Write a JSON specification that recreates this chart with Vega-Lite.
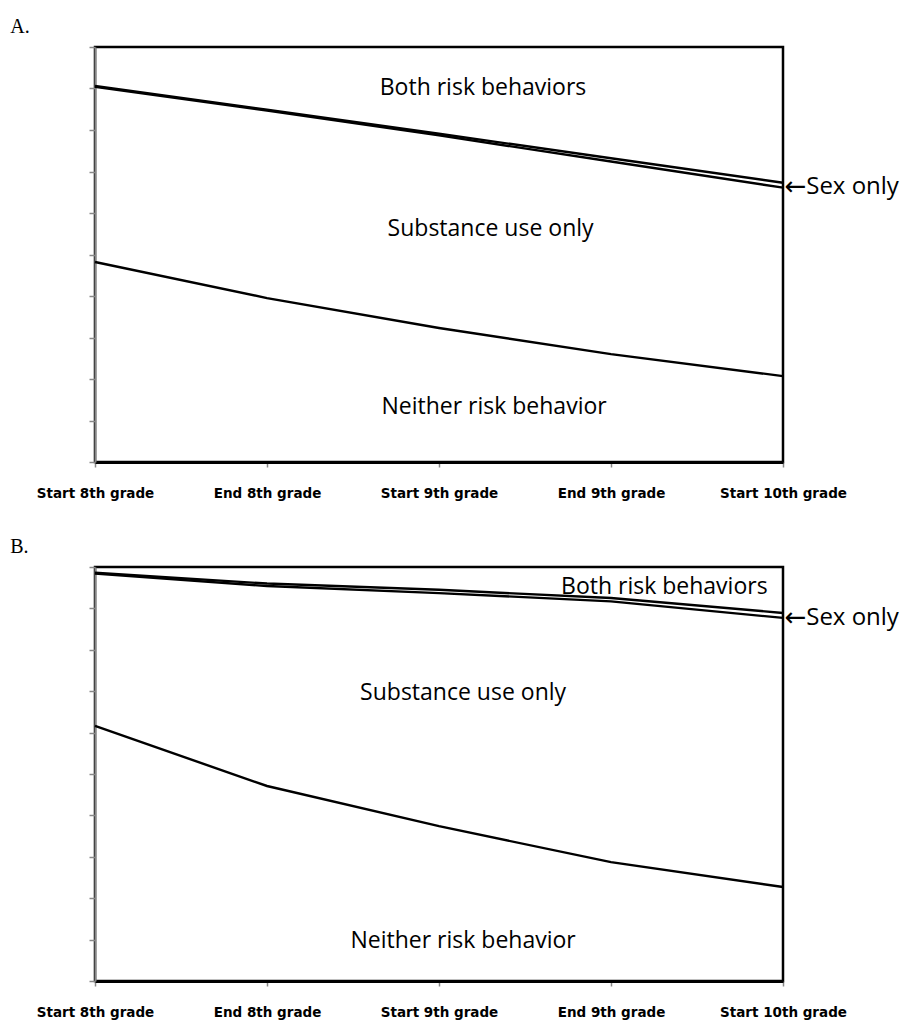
{
  "$schema": "https://vega.github.io/schema/vega-lite/v6.json",
  "background": "white",
  "padding": {"left": 8, "top": 16, "right": 0, "bottom": 0},
  "config": {
    "view": {"stroke": "black", "strokeWidth": 2.5},
    "concat": {"spacing": 35},
    "title": {"font": "Liberation Serif", "fontSize": 20, "fontWeight": "normal", "color": "black", "anchor": "start", "baseline": "bottom", "offset": 9, "dx": -26},
    "axisX": {
      "labelFont": "DejaVu Sans", "labelFontWeight": "bold", "labelFontSize": 13.5, "labelColor": "black",
      "labelPadding": 19, "labelFlush": false, "labelBaseline": "top",
      "tickSize": 5, "tickColor": "#888888", "tickWidth": 1.5,
      "domainColor": "black", "domainWidth": 3, "grid": false, "title": null, "zindex": 1
    },
    "axisY": {
      "labels": false, "tickSize": 6, "tickColor": "#888888", "tickWidth": 1.5,
      "domainColor": "#888888", "domainWidth": 2, "grid": false, "title": null, "zindex": 1
    }
  },
  "datasets": {
    "lines": [
      {"panel": "A", "series": "upper", "t": 0, "v": 0.906},
      {"panel": "A", "series": "upper", "t": 1, "v": 0.849},
      {"panel": "A", "series": "upper", "t": 2, "v": 0.791},
      {"panel": "A", "series": "upper", "t": 3, "v": 0.732},
      {"panel": "A", "series": "upper", "t": 4, "v": 0.673},
      {"panel": "A", "series": "middle", "t": 0, "v": 0.904},
      {"panel": "A", "series": "middle", "t": 1, "v": 0.847},
      {"panel": "A", "series": "middle", "t": 2, "v": 0.787},
      {"panel": "A", "series": "middle", "t": 3, "v": 0.724},
      {"panel": "A", "series": "middle", "t": 4, "v": 0.661},
      {"panel": "A", "series": "lower", "t": 0, "v": 0.482},
      {"panel": "A", "series": "lower", "t": 1, "v": 0.395},
      {"panel": "A", "series": "lower", "t": 2, "v": 0.323},
      {"panel": "A", "series": "lower", "t": 3, "v": 0.260},
      {"panel": "A", "series": "lower", "t": 4, "v": 0.207},
      {"panel": "B", "series": "upper", "t": 0, "v": 0.986},
      {"panel": "B", "series": "upper", "t": 1, "v": 0.960},
      {"panel": "B", "series": "upper", "t": 2, "v": 0.945},
      {"panel": "B", "series": "upper", "t": 3, "v": 0.925},
      {"panel": "B", "series": "upper", "t": 4, "v": 0.889},
      {"panel": "B", "series": "middle", "t": 0, "v": 0.984},
      {"panel": "B", "series": "middle", "t": 1, "v": 0.954},
      {"panel": "B", "series": "middle", "t": 2, "v": 0.937},
      {"panel": "B", "series": "middle", "t": 3, "v": 0.917},
      {"panel": "B", "series": "middle", "t": 4, "v": 0.877},
      {"panel": "B", "series": "lower", "t": 0, "v": 0.616},
      {"panel": "B", "series": "lower", "t": 1, "v": 0.471},
      {"panel": "B", "series": "lower", "t": 2, "v": 0.374},
      {"panel": "B", "series": "lower", "t": 3, "v": 0.287},
      {"panel": "B", "series": "lower", "t": 4, "v": 0.227}
    ],
    "labels": [
      {"panel": "A", "kind": "center", "label": "Both risk behaviors", "t": 2.256, "v": 0.901},
      {"panel": "A", "kind": "center", "label": "Substance use only", "t": 2.30, "v": 0.561},
      {"panel": "A", "kind": "center", "label": "Neither risk behavior", "t": 2.32, "v": 0.133},
      {"panel": "A", "kind": "arrow", "label": "←", "t": 4.01, "v": 0.663},
      {"panel": "A", "kind": "left", "label": "Sex only", "t": 4.135, "v": 0.663},
      {"panel": "B", "kind": "center", "label": "Both risk behaviors", "t": 3.31, "v": 0.951},
      {"panel": "B", "kind": "center", "label": "Substance use only", "t": 2.14, "v": 0.696},
      {"panel": "B", "kind": "center", "label": "Neither risk behavior", "t": 2.14, "v": 0.097},
      {"panel": "B", "kind": "arrow", "label": "←", "t": 4.01, "v": 0.877},
      {"panel": "B", "kind": "left", "label": "Sex only", "t": 4.135, "v": 0.877}
    ]
  },
  "vconcat": [
    {
      "title": {"text": "A."},
      "width": 688,
      "height": 415,
      "layer": [
        {
          "data": {"name": "lines"},
          "transform": [{"filter": "datum.panel === 'A'"}],
          "mark": {"type": "line", "color": "black", "strokeWidth": 2.4},
          "encoding": {
            "x": {"field": "t", "type": "quantitative", "scale": {"domain": [0, 4], "nice": false},
                  "axis": {"values": [0, 1, 2, 3, 4], "labelExpr": "['Start 8th grade','End 8th grade','Start 9th grade','End 9th grade','Start 10th grade'][datum.value]"}},
            "y": {"field": "v", "type": "quantitative", "scale": {"domain": [0, 1], "nice": false},
                  "axis": {"values": [0, 0.1, 0.2, 0.3, 0.4, 0.5, 0.6, 0.7, 0.8, 0.9, 1]}},
            "detail": {"field": "series"}
          }
        },
        {
          "data": {"name": "labels"},
          "transform": [{"filter": "datum.panel === 'A' && datum.kind === 'center'"}],
          "mark": {"type": "text", "font": "Open Sans", "fontSize": 23, "align": "center", "baseline": "middle", "color": "black"},
          "encoding": {
            "x": {"field": "t", "type": "quantitative"},
            "y": {"field": "v", "type": "quantitative"},
            "text": {"field": "label"}
          }
        },
        {
          "data": {"name": "labels"},
          "transform": [{"filter": "datum.panel === 'A' && datum.kind === 'left'"}],
          "mark": {"type": "text", "font": "Open Sans", "fontSize": 24, "align": "left", "baseline": "middle", "color": "black"},
          "encoding": {
            "x": {"field": "t", "type": "quantitative"},
            "y": {"field": "v", "type": "quantitative"},
            "text": {"field": "label"}
          }
        },
        {
          "data": {"name": "labels"},
          "transform": [{"filter": "datum.panel === 'A' && datum.kind === 'arrow'"}],
          "mark": {"type": "text", "font": "DejaVu Sans", "fontSize": 26, "align": "left", "baseline": "middle", "color": "black"},
          "encoding": {
            "x": {"field": "t", "type": "quantitative"},
            "y": {"field": "v", "type": "quantitative"},
            "text": {"field": "label"}
          }
        }
      ]
    },
    {
      "title": {"text": "B."},
      "width": 688,
      "height": 414,
      "layer": [
        {
          "data": {"name": "lines"},
          "transform": [{"filter": "datum.panel === 'B'"}],
          "mark": {"type": "line", "color": "black", "strokeWidth": 2.4},
          "encoding": {
            "x": {"field": "t", "type": "quantitative", "scale": {"domain": [0, 4], "nice": false},
                  "axis": {"values": [0, 1, 2, 3, 4], "labelExpr": "['Start 8th grade','End 8th grade','Start 9th grade','End 9th grade','Start 10th grade'][datum.value]"}},
            "y": {"field": "v", "type": "quantitative", "scale": {"domain": [0, 1], "nice": false},
                  "axis": {"values": [0, 0.1, 0.2, 0.3, 0.4, 0.5, 0.6, 0.7, 0.8, 0.9, 1]}},
            "detail": {"field": "series"}
          }
        },
        {
          "data": {"name": "labels"},
          "transform": [{"filter": "datum.panel === 'B' && datum.kind === 'center'"}],
          "mark": {"type": "text", "font": "Open Sans", "fontSize": 23, "align": "center", "baseline": "middle", "color": "black"},
          "encoding": {
            "x": {"field": "t", "type": "quantitative"},
            "y": {"field": "v", "type": "quantitative"},
            "text": {"field": "label"}
          }
        },
        {
          "data": {"name": "labels"},
          "transform": [{"filter": "datum.panel === 'B' && datum.kind === 'left'"}],
          "mark": {"type": "text", "font": "Open Sans", "fontSize": 24, "align": "left", "baseline": "middle", "color": "black"},
          "encoding": {
            "x": {"field": "t", "type": "quantitative"},
            "y": {"field": "v", "type": "quantitative"},
            "text": {"field": "label"}
          }
        },
        {
          "data": {"name": "labels"},
          "transform": [{"filter": "datum.panel === 'B' && datum.kind === 'arrow'"}],
          "mark": {"type": "text", "font": "DejaVu Sans", "fontSize": 26, "align": "left", "baseline": "middle", "color": "black"},
          "encoding": {
            "x": {"field": "t", "type": "quantitative"},
            "y": {"field": "v", "type": "quantitative"},
            "text": {"field": "label"}
          }
        }
      ]
    }
  ]
}
